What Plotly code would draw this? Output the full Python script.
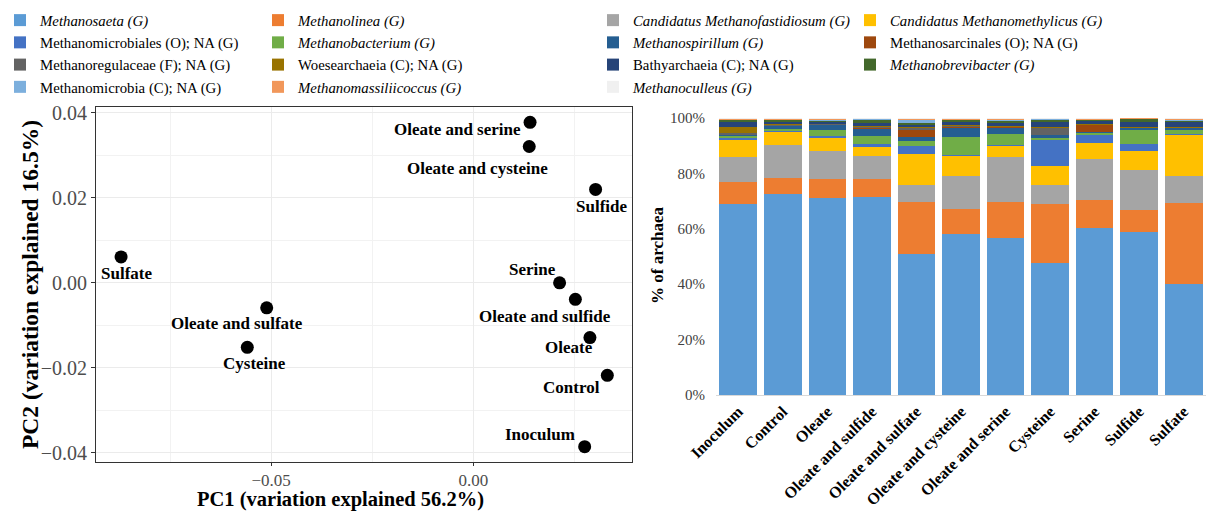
import plotly.graph_objects as go

W, H = 1206, 511
SERIF = "Liberation Serif"

# ---- PCA scores -------------------------------------------------------------
samples = ["Sulfate", "Oleate and sulfate", "Cysteine", "Oleate and serine",
           "Oleate and cysteine", "Sulfide", "Serine", "Oleate and sulfide",
           "Oleate", "Control", "Inoculum"]
pc1 = [-0.0871, -0.0511, -0.0559, 0.0140, 0.0138, 0.0302, 0.0213, 0.0252,
       0.0288, 0.0331, 0.0275]
pc2 = [0.0061, -0.0059, -0.0152, 0.0378, 0.0321, 0.0220, 0.0000, -0.0039,
       -0.0129, -0.0218, -0.0386]

# label placement relative to each point (px, right / down)
label_dx = [5, -30, 7, -73, -52, 6, -27, -30, -21, -36, -45]
label_dy = [17, 16, 16, 7, 22, 17, -13, 17, 10, 12, -12]

# ---- Archaeal community composition (% of archaea) --------------------------
treatments = ["Inoculum", "Control", "Oleate", "Oleate and sulfide",
              "Oleate and sulfate", "Oleate and cysteine", "Oleate and serine",
              "Cysteine", "Serine", "Sulfide", "Sulfate"]

methanosaeta = [69.1, 72.5, 71.2, 71.6, 50.9, 58.0, 56.6, 47.5, 60.2, 58.7, 40.0]
methanolinea = [7.9, 5.8, 6.9, 6.4, 18.9, 9.1, 13.2, 21.5, 10.2, 8.1, 29.4]
methanofastidiosum = [9.0, 12.0, 9.9, 8.4, 6.1, 12.0, 16.2, 6.8, 14.7, 14.4, 9.8]
methanomethylicus = [6.2, 5.0, 4.9, 3.0, 11.1, 7.2, 4.0, 6.9, 6.0, 6.9, 14.8]
methanomicrobiales_na = [0.7, 0.3, 0.5, 1.2, 3.0, 0.2, 0.2, 9.2, 3.1, 2.5, 0.3]
methanobacterium = [0.6, 0.5, 2.4, 2.8, 1.8, 6.8, 4.2, 1.0, 0.6, 5.4, 1.6]
methanospirillum = [0.5, 1.2, 1.8, 2.7, 1.2, 3.0, 2.2, 0.8, 0.3, 0.4, 0.5]
methanosarcinales_na = [0.2, 0.1, 0.1, 0.6, 2.7, 0.8, 0.2, 0.0, 2.4, 0.1, 0.1]
methanoregulaceae_na = [0.3, 0.2, 0.2, 0.2, 0.7, 0.3, 0.2, 2.9, 0.2, 0.1, 0.1]
woesearchaeia_na = [2.2, 0.2, 0.1, 0.1, 0.2, 0.2, 0.1, 0.1, 0.1, 0.1, 0.1]
bathyarchaeia_na = [1.8, 1.0, 0.6, 1.2, 1.2, 1.2, 1.2, 2.2, 1.3, 1.9, 2.0]
methanobrevibacter = [0.8, 0.6, 0.6, 1.3, 0.3, 0.5, 0.7, 0.7, 0.4, 1.2, 0.3]
methanomicrobia_na = [0.2, 0.1, 0.2, 0.2, 1.4, 0.2, 0.1, 0.1, 0.1, 0.1, 0.1]
methanomassiliicoccus = [0.3, 0.4, 0.5, 0.2, 0.4, 0.4, 0.8, 0.2, 0.3, 0.1, 0.8]
methanoculleus = [0.2, 0.1, 0.1, 0.1, 0.1, 0.1, 0.1, 0.1, 0.1, 0.0, 0.1]

# (legend label, values, colour, legend column)
taxa = [
    ("<i>Methanosaeta (G)</i>", methanosaeta, "#5B9BD5", "legend"),
    ("<i>Methanolinea (G)</i>", methanolinea, "#ED7D31", "legend2"),
    ("<i>Candidatus Methanofastidiosum (G)</i>", methanofastidiosum, "#A5A5A5", "legend3"),
    ("<i>Candidatus Methanomethylicus (G)</i>", methanomethylicus, "#FFC000", "legend4"),
    ("Methanomicrobiales (O); NA (G)", methanomicrobiales_na, "#4472C4", "legend"),
    ("<i>Methanobacterium (G)</i>", methanobacterium, "#70AD47", "legend2"),
    ("<i>Methanospirillum (G)</i>", methanospirillum, "#255E91", "legend3"),
    ("Methanosarcinales (O); NA (G)", methanosarcinales_na, "#9E480E", "legend4"),
    ("Methanoregulaceae (F); NA (G)", methanoregulaceae_na, "#636363", "legend"),
    ("Woesearchaeia (C); NA (G)", woesearchaeia_na, "#997300", "legend2"),
    ("Bathyarchaeia (C); NA (G)", bathyarchaeia_na, "#264478", "legend3"),
    ("<i>Methanobrevibacter (G)</i>", methanobrevibacter, "#43682B", "legend4"),
    ("Methanomicrobia (C); NA (G)", methanomicrobia_na, "#7CAFDD", "legend"),
    ("<i>Methanomassiliicoccus (G)</i>", methanomassiliicoccus, "#F1975A", "legend2"),
    ("<i>Methanoculleus (G)</i>", methanoculleus, "#F0F0F0", "legend3"),
]

fig = go.Figure()

# PCA scatter
fig.add_trace(go.Scatter(
    x=pc1, y=pc2, mode="markers", showlegend=False,
    marker=dict(color="black", size=13),
    xaxis="x", yaxis="y", hoverinfo="text", text=samples,
))

# stacked composition bars (one legend group per taxon so rows can be spaced)
for i, (name, vals, color, leg) in enumerate(taxa):
    fig.add_trace(go.Bar(
        x=treatments, y=vals, name=name, legend=leg, legendgroup=f"t{i}",
        marker=dict(color=color, line=dict(width=0)),
        xaxis="x2", yaxis="y2",
    ))

# point labels
annotations = []
for s, x, y, dx, dy in zip(samples, pc1, pc2, label_dx, label_dy):
    annotations.append(dict(
        x=x, y=y, xref="x", yref="y", text=s, showarrow=False,
        xanchor="center", yanchor="middle", xshift=dx, yshift=-dy,
        font=dict(family=SERIF, size=17, color="black", weight="bold"),
    ))

# axis titles
annotations += [
    dict(x=340 / W, y=1 - 499 / H, xref="paper", yref="paper",
         text="PC1 (variation explained 56.2%)", showarrow=False,
         xanchor="center", yanchor="middle",
         font=dict(family=SERIF, size=20.5, color="black", weight="bold")),
    dict(x=30 / W, y=1 - 285 / H, xref="paper", yref="paper",
         text="PC2 (variation explained 16.5%)", showarrow=False, textangle=-90,
         xanchor="center", yanchor="middle",
         font=dict(family=SERIF, size=23.5, color="black", weight="bold")),
    dict(x=657 / W, y=1 - 256 / H, xref="paper", yref="paper",
         text="% of archaea", showarrow=False, textangle=-90,
         xanchor="center", yanchor="middle",
         font=dict(family=SERIF, size=17, color="black", weight="bold")),
]

legend_common = dict(
    orientation="v", traceorder="normal", yanchor="top", y=1 - 4 / H, xanchor="left",
    bgcolor="rgba(0,0,0,0)", borderwidth=0, tracegroupgap=2,
    font=dict(family=SERIF, size=14.8, color="black"),
)

fig.update_layout(
    width=W, height=H,
    margin=dict(l=0, r=0, t=0, b=0),
    paper_bgcolor="white", plot_bgcolor="white",
    barmode="stack", bargap=0.155,
    font=dict(family=SERIF),
    annotations=annotations,
    legend=dict(legend_common, x=0 / W),
    legend2=dict(legend_common, x=258 / W),
    legend3=dict(legend_common, x=593 / W),
    legend4=dict(legend_common, x=850 / W),
    xaxis=dict(
        domain=[96 / W, 632 / W], anchor="y", range=[-0.0933, 0.0392],
        tick0=0, dtick=0.05, tickformat=".2f",
        showgrid=True, gridcolor="#EBEBEB", gridwidth=1.1, zeroline=False,
        minor=dict(tick0=0, dtick=0.025, showgrid=True, gridcolor="#F2F2F2", gridwidth=0.6),
        showline=True, mirror=True, linecolor="#333333", linewidth=1.1,
        ticks="outside", ticklen=3, tickcolor="#333333",
        tickfont=dict(family=SERIF, size=17, color="#4D4D4D"),
        automargin=False,
    ),
    yaxis=dict(
        domain=[1 - 462 / H, 1 - 107 / H], anchor="x", range=[-0.0422, 0.0414],
        tick0=0, dtick=0.02, tickformat=".2f",
        showgrid=True, gridcolor="#EBEBEB", gridwidth=1.1, zeroline=False,
        minor=dict(tick0=0, dtick=0.01, showgrid=True, gridcolor="#F2F2F2", gridwidth=0.6),
        showline=True, mirror=True, linecolor="#333333", linewidth=1.1,
        ticks="outside", ticklen=4, tickcolor="#333333",
        tickfont=dict(family=SERIF, size=20, color="#4D4D4D"),
        automargin=False,
    ),
    xaxis2=dict(
        domain=[716 / W, 1.0], anchor="y2",
        tickangle=-45, showgrid=False, ticks="",
        showline=True, linecolor="#D9D9D9", linewidth=1,
        tickfont=dict(family=SERIF, size=16, color="black", weight="bold"),
        automargin=False,
    ),
    yaxis2=dict(
        domain=[1 - 395 / H, 1 - 118 / H], anchor="x2", range=[0, 100],
        dtick=20, ticksuffix="%", showgrid=False, zeroline=False, ticks="",
        showline=False, ticklabelstandoff=10,
        tickfont=dict(family=SERIF, size=15, color="#404040"),
        automargin=False,
    ),
)

fig.write_html("out.html")
